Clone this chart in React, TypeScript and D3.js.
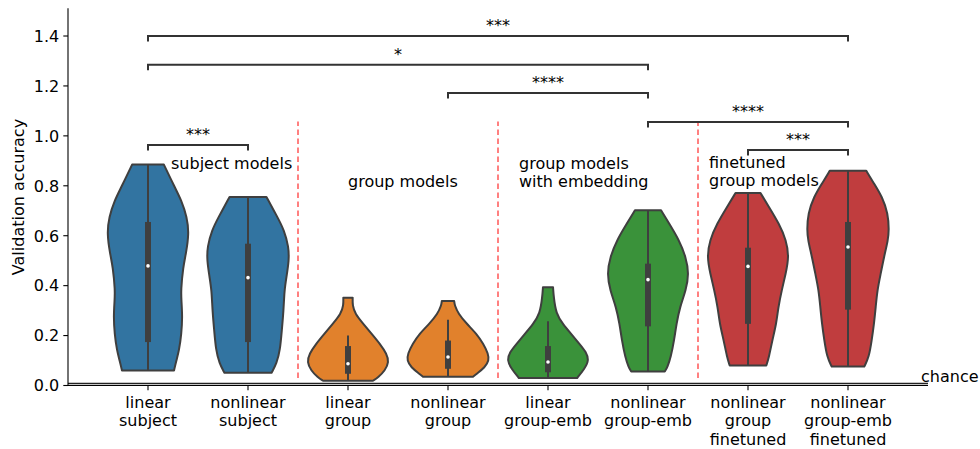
import React from 'react';
import * as d3 from 'd3';

// ---------- data ----------
const categories = [
  'linear\nsubject',
  'nonlinear\nsubject',
  'linear\ngroup',
  'nonlinear\ngroup',
  'linear\ngroup-emb',
  'nonlinear\ngroup-emb',
  'nonlinear\ngroup\nfinetuned',
  'nonlinear\ngroup-emb\nfinetuned',
];
const colors = ['#3274a1', '#3274a1', '#e1812c', '#e1812c', '#3a923a', '#3a923a', '#c03d3e', '#c03d3e'];

// violin density profiles: accuracy values (top -> bottom) and relative density at each
const profileValues: number[][] = [
  [0.885, 0.795, 0.742, 0.675, 0.608, 0.528, 0.475, 0.381, 0.341, 0.274, 0.207, 0.14, 0.1, 0.06],
  [0.755, 0.675, 0.622, 0.555, 0.501, 0.434, 0.381, 0.301, 0.222, 0.142, 0.089, 0.051],
  [0.352, 0.321, 0.288, 0.247, 0.207, 0.167, 0.127, 0.094, 0.06, 0.033, 0.019],
  [0.338, 0.321, 0.288, 0.247, 0.207, 0.167, 0.127, 0.1, 0.073, 0.047, 0.035],
  [0.394, 0.354, 0.288, 0.247, 0.207, 0.167, 0.134, 0.1, 0.067, 0.03],
  [0.702, 0.649, 0.582, 0.515, 0.448, 0.381, 0.314, 0.247, 0.181, 0.114, 0.073, 0.056],
  [0.771, 0.715, 0.649, 0.582, 0.515, 0.448, 0.381, 0.314, 0.247, 0.181, 0.114, 0.08],
  [0.86, 0.809, 0.755, 0.689, 0.622, 0.582, 0.515, 0.448, 0.381, 0.314, 0.247, 0.181, 0.114, 0.076],
];
const profileDensity: number[][] = [
  [15.7, 26.3, 33, 38.5, 40.5, 37.5, 34.7, 32.5, 33, 34, 33, 30.7, 28, 25.7],
  [18, 28.7, 35.3, 39.7, 40, 37.5, 35.5, 34.7, 33, 31.3, 28, 23],
  [4.7, 4.5, 7, 15.3, 23.7, 32, 38.7, 41, 37, 30.3, 25],
  [6.2, 6.7, 10.3, 18.7, 28.7, 35.3, 40.3, 41, 37, 28.7, 25],
  [5, 5.7, 8, 14.7, 23, 31.3, 38, 40.8, 36.3, 29],
  [13, 21, 31, 37.7, 40.8, 37.7, 31.7, 28.3, 26, 22.7, 19.3, 16.7],
  [12.5, 21, 31, 38.3, 41, 37.7, 33.7, 30.3, 28.3, 24.3, 21, 18.3],
  [18.3, 26, 34.3, 40, 41, 40, 36, 32.7, 29.3, 27.7, 26, 23.7, 21, 16.3],
];
const boxQ1 = [0.174, 0.174, 0.047, 0.067, 0.053, 0.237, 0.247, 0.304];
const boxMedian = [0.479, 0.432, 0.087, 0.114, 0.094, 0.424, 0.477, 0.555];
const boxQ3 = [0.655, 0.568, 0.158, 0.18, 0.158, 0.488, 0.552, 0.655];
const whiskerLow = [0.06, 0.051, 0.019, 0.035, 0.03, 0.056, 0.08, 0.076];
const whiskerHigh = [0.885, 0.755, 0.2, 0.263, 0.257, 0.702, 0.771, 0.86];

const yTicks = [0, 0.2, 0.4, 0.6, 0.8, 1.0, 1.2, 1.4];

const bracketStart = [0, 6, 5, 3, 0, 0];
const bracketEnd = [1, 7, 7, 5, 5, 7];
const bracketLevel = [0.963, 0.943, 1.056, 1.172, 1.285, 1.4];
const bracketLabel = ['***', '***', '****', '****', '*', '***'];

const groupLabelX = [0.23, 2.0, 3.71, 5.61];
const groupLabelText = [['subject models'], ['group models'], ['group models', 'with embedding'], ['finetuned', 'group models']];
const groupLabelTop = [168.5, 186.5, 168.5, 167.5];

const dividers = [1.5, 3.5, 5.5];
const chanceLevel = 0.008;

// ---------- layout ----------
const W = 980;
const H = 449;
const FONT = 'DejaVu Sans';

export default function App() {
  const x = d3.scaleLinear().domain([-0.8, 7.8]).range([68, 928]);
  const y = d3.scaleLinear().domain([0, 1.511]).range([385.5, 8.3]);
  const halfW = 0.41 * (x(1) - x(0));
  const edge = '#3f3f3f';

  const violins = categories.map((_, i) => {
    const vals = profileValues[i];
    const dens = profileDensity[i];
    const mx = d3.max(dens) as number;
    const pts = vals.map((v, j) => [v, dens[j] / mx] as [number, number]);
    const cx = x(i);
    const area = d3
      .area<[number, number]>()
      .y((d) => y(d[0]))
      .x0((d) => cx - halfW * d[1])
      .x1((d) => cx + halfW * d[1])
      .curve(d3.curveBasis);
    return { path: area(pts) as string, cx, i };
  });

  const bh = 0.022;

  return (
    <div style={{ position: 'absolute', left: 0, top: 0 }}>
      <svg width={W} height={H} style={{ display: 'block', background: '#fff' }} fontFamily={FONT}>
        {/* dividers */}
        {dividers.map((d) => (
          <line
            key={d}
            x1={x(d)}
            x2={x(d)}
            y1={385.5 - 0.02 * 377.2}
            y2={385.5 - 0.7 * 377.2}
            stroke="#ff8080"
            strokeWidth={2}
            strokeDasharray="5.5,3.5"
          />
        ))}

        {/* violins */}
        {violins.map((v) => (
          <g key={v.i}>
            <path d={v.path} fill={colors[v.i]} stroke={edge} strokeWidth={2} strokeLinejoin="round" />
            <line x1={v.cx} x2={v.cx} y1={y(whiskerLow[v.i])} y2={y(whiskerHigh[v.i])} stroke={edge} strokeWidth={2} />
            <rect
              x={v.cx - 3}
              width={6}
              y={y(boxQ3[v.i])}
              height={y(boxQ1[v.i]) - y(boxQ3[v.i])}
              fill={edge}
            />
            <circle cx={v.cx} cy={y(boxMedian[v.i])} r={1.8} fill="#fff" />
          </g>
        ))}

        {/* group labels */}
        {groupLabelX.map((gx, i) => (
          <text key={i} x={x(gx)} y={groupLabelTop[i]} fontSize={16} fill="#000">
            {groupLabelText[i].map((t, k) => (
              <tspan key={k} x={x(gx)} dy={k === 0 ? 0 : 18.5}>
                {t}
              </tspan>
            ))}
          </text>
        ))}

        {/* brackets */}
        {bracketStart.map((s, i) => {
          const e = bracketEnd[i];
          const yy = y(bracketLevel[i]);
          const yb = y(bracketLevel[i] - bh);
          return (
            <g key={i}>
              <path
                d={`M${x(s)},${yb}L${x(s)},${yy}L${x(e)},${yy}L${x(e)},${yb}`}
                fill="none"
                stroke="#333333"
                strokeWidth={2}
              />
              <text x={(x(s) + x(e)) / 2} y={yy - 5} fontSize={16} textAnchor="middle" fill="#000">
                {bracketLabel[i]}
              </text>
            </g>
          );
        })}

        {/* chance line */}
        <line x1={x(-0.8)} x2={x(7.8)} y1={y(chanceLevel)} y2={y(chanceLevel)} stroke="#222" strokeWidth={1.5} />
        <text x={921} y={382} fontSize={16} fill="#000">
          chance
        </text>

        {/* axes */}
        <line x1={68} x2={68} y1={y(1.511)} y2={y(0)} stroke="#000" strokeWidth={1.1} />
        <line x1={68} x2={928} y1={y(0)} y2={y(0)} stroke="#000" strokeWidth={1.1} />
        {yTicks.map((t) => (
          <g key={t}>
            <line x1={63.3} x2={68} y1={y(t)} y2={y(t)} stroke="#000" strokeWidth={1.1} />
            <text x={59.3} y={y(t) + 5.8} fontSize={16} textAnchor="end" fill="#000">
              {d3.format('.1f')(t)}
            </text>
          </g>
        ))}
        {categories.map((c, i) => (
          <g key={i}>
            <line x1={x(i)} x2={x(i)} y1={y(0)} y2={y(0) + 4.7} stroke="#000" strokeWidth={1.1} />
            <text x={x(i)} y={408} fontSize={16} textAnchor="middle" fill="#000">
              {c.split('\n').map((t, k) => (
                <tspan key={k} x={x(i)} dy={k === 0 ? 0 : 18.4}>
                  {t}
                </tspan>
              ))}
            </text>
          </g>
        ))}
        <text
          transform={`translate(24,197) rotate(-90)`}
          fontSize={16}
          textAnchor="middle"
          fill="#000"
        >
          Validation accuracy
        </text>
      </svg>
    </div>
  );
}
